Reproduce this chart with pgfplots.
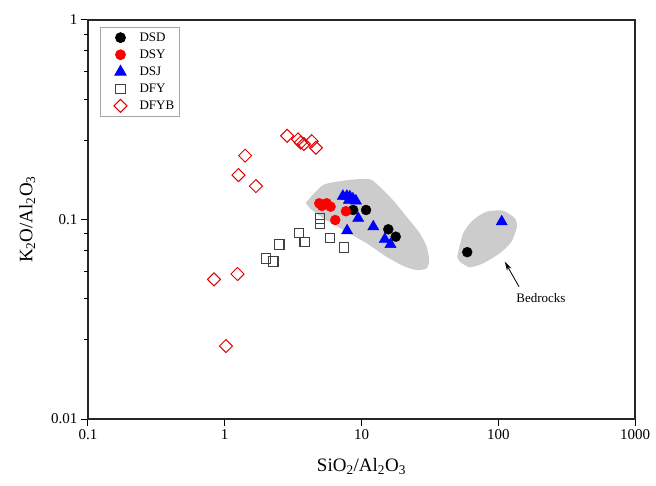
\documentclass[border=0pt]{standalone}
\usepackage{pgfplots}
\pgfplotsset{compat=1.18}
\usepackage{fontspec}
\setmainfont{Liberation Serif}
\usetikzlibrary{calc,arrows.meta}
\begin{document}
\begin{tikzpicture}
\begin{axis}[
  xmode=log, ymode=log,
  scale only axis, width=547pt, height=399pt,
  xmin=0.1, xmax=1000, ymin=0.01, ymax=1,
  xtick={0.1,1,10,100,1000}, xticklabels={0.1,1,10,100,1000},
  ytick={0.01,0.1,1}, yticklabels={0.01,0.1,1},
  xminorticks=false, yminorticks=false,
  extra y ticks={0.025,0.04,0.055,0.07,0.085,0.25,0.4,0.55,0.7,0.85},
  extra y tick labels={},
  extra y tick style={major tick length=4pt, tick style={black, line width=1pt}},
  tick align=outside, xtick pos=left, ytick pos=left,
  major tick length=7pt,
  tick style={black, line width=1pt},
  axis line style={line width=1.2pt, black!85},
  ticklabel style={font=\fontsize{15}{15}\selectfont},
  /pgf/number format/assume math mode=true,
  xlabel={SiO\textsubscript{2}/Al\textsubscript{2}O\textsubscript{3}},
  ylabel={K\textsubscript{2}O/Al\textsubscript{2}O\textsubscript{3}},
  every axis x label/.style={at={(axis description cs:0.5,-0.12)}, anchor=center, font=\fontsize{19}{19}\selectfont},
  every axis y label/.style={at={(axis description cs:-0.111,0.5)}, rotate=90, anchor=center, font=\fontsize{19}{19}\selectfont},
  every axis plot post/.append style={legend image code/.code={\path[draw=none,fill=none] (0cm,-1pt) rectangle (1.2cm,1pt); \draw[##1] plot coordinates {(0.6cm,0cm)};}},
  legend style={at={(axis description cs:0.022,0.982)}, anchor=north west,
    draw=gray!70, line width=0.8pt, font=\fontsize{13}{14}\selectfont,
    row sep=3pt, inner sep=3pt},
  legend cell align=left,
]
\coordinate (ll) at (rel axis cs:0,0);
\coordinate (ur) at (rel axis cs:1,1);
% grey fields
\addplot[fill=gray!40, draw=none, forget plot, smooth, tension=0.4] coordinates {
 (3.92,0.1214) (5.25,0.149) (8.22,0.158) (11.5,0.159) (13.6,0.146) (17.0,0.125)
 (21.4,0.103) (26.7,0.0853) (29.9,0.0731) (31.3,0.0627) (29.9,0.0569) (25.3,0.0558)
 (20.2,0.0585) (15.2,0.0651) (10.9,0.076) (7.35,0.0886) (5.25,0.1014) (4.20,0.1138) (3.92,0.1214)};
\addplot[fill=gray!40, draw=none, forget plot, smooth, tension=0.4] coordinates {
 (50.1,0.0651) (55.4,0.0853) (65.5,0.0994) (82.1,0.1094) (108.6,0.1107) (132,0.1014)
 (137,0.092) (125,0.0774) (102.7,0.0677) (77.6,0.0603) (62.0,0.0576) (52.4,0.0614) (50.1,0.0651)};
% DSD
\addplot[only marks, mark=*, mark size=5pt, black, mark options={fill=black}] coordinates {
 (8.69,0.1116) (10.8,0.1116) (15.7,0.0893) (17.8,0.082) (59.3,0.0686)};
\addlegendentry{DSD}
% DSY
\addplot[only marks, mark=*, mark size=5pt, red, mark options={fill=red}] coordinates {
 (4.91,0.1206) (5.14,0.117) (5.56,0.1206) (5.94,0.116) (7.69,0.110) (6.43,0.0994)};
\addlegendentry{DSY}
% DSJ
\addplot[only marks, mark=triangle*, mark size=6.5pt, blue, mark options={fill=blue}] coordinates {
 (7.31,0.131) (7.82,0.131) (8.22,0.130) (8.65,0.127) (9.10,0.124) (8.09,0.125)
 (9.46,0.1014) (12.2,0.092) (7.85,0.0879) (14.8,0.0796) (16.3,0.0751) (106,0.0975)};
\addlegendentry{DSJ}
% DFY
\addplot[only marks, mark=square, mark size=4.8pt, black!75, mark options={line width=1.1pt}] coordinates {
 (4.97,0.101) (4.97,0.095) (3.49,0.0856) (3.85,0.0771) (5.87,0.0808) (7.43,0.0722)
 (2.50,0.0748) (2.0,0.0636) (2.26,0.0615)};
\addlegendentry{DFY}
% DFYB
\addplot[only marks, mark=square, mark size=4.6pt, red!90!black, mark options={rotate=45, line width=1pt}] coordinates {
 (2.86,0.263) (3.44,0.252) (3.59,0.243) (3.79,0.239) (4.32,0.247) (4.64,0.229)
 (1.41,0.209) (1.26,0.167) (1.69,0.147) (1.24,0.0533) (0.834,0.0501) (1.02,0.0232)};
\addlegendentry{DFYB}
\draw[-{Stealth[length=9pt,width=5pt]}, line width=0.8pt] (axis cs:142,0.046) -- (axis cs:111.7,0.0614);
\node[font=\fontsize{13}{13}\selectfont] at (axis cs:205,0.0402) {Bedrocks};
\end{axis}
\pgfresetboundingbox
\path[use as bounding box] ($(ll)+(-88pt,-67pt)$) rectangle ($(ur)+(21pt,20pt)$);
\end{tikzpicture}
\end{document}
